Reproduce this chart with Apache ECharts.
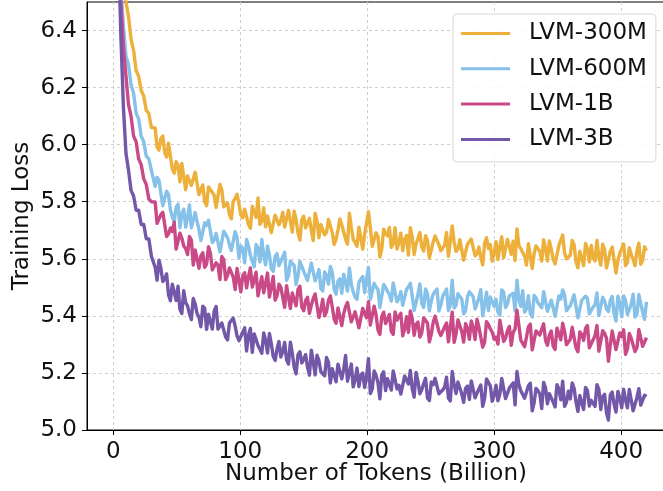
<!DOCTYPE html>
<html><head><meta charset="utf-8">
<script src="https://cdn.jsdelivr.net/npm/echarts@6/dist/echarts.min.js"></script>
<style>html,body{margin:0;padding:0;background:#fff}#c{width:663px;height:491px}</style>
</head><body><div id="c"></div>
<script>
const tokens = [2,4,6,8,10,12,14,16,18,20,22,24,26,28,30,
33,36,39,42,45,48,51,54,57,60,63,66,69,72,75,78,81,84,87,90,93,96,99,102,105,108,111,114,117,120,
123,126,129,132,135,138,141,144,147,150,153,156,159,162,165,168,171,174,177,180,183,186,189,192,195,198,201,204,207,210,
213,216,219,222,225,228,231,234,237,240,243,246,249,252,255,258,261,264,267,270,273,276,279,282,285,288,291,294,297,300,
303,306,309,312,315,318,321,324,327,330,333,336,339,342,345,348,351,354,357,360,363,366,369,372,375,378,381,384,387,390,
393,396,399,402,405,408,411,414,417,420];

const tokensMid = [34.5,37.5,40.5,43.5,46.5,49.5,52.5,55.5,58.5,61.5,64.5,67.5,70.5,73.5,76.5,79.5,82.5,85.5,88.5,91.5,94.5,97.5,100.5,103.5,106.5,109.5,112.5,115.5,118.5,
121.5,124.5,127.5,130.5,133.5,136.5,139.5,142.5,145.5,148.5,151.5,154.5,157.5,160.5,163.5,166.5,169.5,172.5,175.5,178.5,181.5,184.5,187.5,190.5,193.5,196.5,199.5,202.5,205.5,208.5,
211.5,214.5,217.5,220.5,223.5,226.5,229.5,232.5,235.5,238.5,241.5,244.5,247.5,250.5,253.5,256.5,259.5,262.5,265.5,268.5,271.5,274.5,277.5,280.5,283.5,286.5,289.5,292.5,295.5,298.5,
301.5,304.5,307.5,310.5,313.5,316.5,319.5,322.5,325.5,328.5,331.5,334.5,337.5,340.5,343.5,346.5,349.5,352.5,355.5,358.5,361.5,364.5,367.5,370.5,373.5,376.5,379.5,382.5,385.5,388.5,
391.5,394.5,397.5,400.5,403.5,406.5,409.5,412.5,415.5,418.5];

const loss300M = [7.60,7.21,6.90,6.66,6.50,6.45,6.37,6.33,6.26,6.24,6.19,6.17,6.12,6.11,6.06,
6.059,5.981,6.030,5.957,5.998,5.900,5.928,5.934,5.842,5.896,5.851,5.905,5.842,5.800,5.852,5.833,5.780,5.861,5.782,5.796,5.740,5.811,5.792,5.744,5.773,5.707,5.788,5.813,5.732,5.712,
5.754,5.696,5.756,5.735,5.711,5.770,5.694,5.737,5.666,5.749,5.725,5.699,5.760,5.674,5.725,5.693,5.739,5.650,5.701,5.719,5.668,5.760,5.669,5.644,5.712,5.687,5.765,5.644,5.691,5.606,
5.704,5.680,5.640,5.709,5.657,5.629,5.682,5.709,5.615,5.671,5.641,5.681,5.603,5.659,5.686,5.628,5.648,5.609,5.715,5.626,5.667,5.595,5.651,5.669,5.610,5.641,5.579,5.674,5.650,5.617,
5.597,5.677,5.606,5.644,5.662,5.705,5.636,5.609,5.653,5.566,5.645,5.626,5.667,5.592,5.634,5.582,5.646,5.683,5.600,5.612,5.650,5.569,5.633,5.654,5.589,5.605,5.665,5.578,5.632,5.596,
5.641,5.550,5.620,5.652,5.587,5.615,5.576,5.655,5.594,5.628];
const loss300MMid = [5.990,6.022,5.972,6.005,5.916,5.940,5.870,5.928,5.890,5.857,
5.903,5.825,5.859,5.786,5.850,5.822,5.786,5.842,5.782,5.754,
5.802,5.826,5.754,5.774,5.720,5.784,5.745,5.721,5.778,5.750,
5.692,5.753,5.719,5.763,5.705,5.731,5.767,5.691,5.737,5.708,
5.742,5.664,5.732,5.720,5.684,5.738,5.692,5.668,5.740,5.694,
5.651,5.710,5.668,5.711,5.634,5.690,5.708,5.650,5.677,5.634,
5.688,5.710,5.653,5.634,5.690,5.668,5.613,5.676,5.652,5.692,
5.627,5.664,5.610,5.680,5.650,5.626,5.692,5.610,5.658,5.634,
5.666,5.597,5.648,5.672,5.618,5.606,5.654,5.636,5.592,5.660,
5.643,5.604,5.668,5.616,5.594,5.646,5.634,5.578,5.658,5.618,
5.647,5.592,5.634,5.663,5.600,5.584,5.648,5.621,5.604,5.664,
5.590,5.627,5.576,5.634,5.647,5.592,5.606,5.651,5.568,5.626,
5.636,5.594,5.614,5.576,5.639,5.598,5.628,5.581,5.642];

const loss600M = [7.20,6.86,6.56,6.41,6.31,6.28,6.21,6.18,6.11,6.09,6.03,6.01,5.96,5.95,5.91,
5.854,5.875,5.786,5.837,5.772,5.730,5.791,5.758,5.711,5.789,5.707,5.731,5.664,5.726,5.735,5.657,5.689,5.624,5.697,5.674,5.629,5.695,5.603,5.635,5.668,5.612,5.572,5.637,5.668,5.579,
5.613,5.556,5.618,5.577,5.623,5.540,5.586,5.510,5.591,5.556,5.524,5.585,5.523,5.562,5.487,5.541,5.573,5.492,5.521,5.479,5.542,5.568,5.484,5.458,5.518,5.482,5.570,5.455,5.501,5.429,
5.510,5.486,5.452,5.518,5.461,5.437,5.493,5.514,5.419,5.475,5.444,5.494,5.418,5.476,5.494,5.437,5.464,5.419,5.525,5.437,5.477,5.407,5.467,5.491,5.424,5.462,5.400,5.483,5.466,5.434,
5.414,5.491,5.429,5.470,5.479,5.525,5.433,5.413,5.471,5.396,5.463,5.449,5.485,5.416,5.455,5.399,5.470,5.491,5.418,5.436,5.474,5.393,5.454,5.469,5.407,5.430,5.480,5.403,5.453,5.415,
5.468,5.382,5.445,5.470,5.405,5.441,5.396,5.475,5.414,5.449];
const loss600MMid = [5.885,5.830,5.783,5.825,5.747,5.781,5.709,5.774,5.745,5.709,
5.762,5.702,5.671,5.717,5.740,5.667,5.684,5.629,5.690,5.649,
5.622,5.676,5.645,5.586,5.646,5.609,5.650,5.589,5.612,5.645,
5.565,5.608,5.576,5.607,5.525,5.592,5.576,5.539,5.589,5.540,
5.517,5.587,5.540,5.496,5.554,5.511,5.553,5.476,5.530,5.546,
5.487,5.511,5.466,5.518,5.538,5.479,5.458,5.514,5.492,5.436,
5.499,5.475,5.515,5.449,5.485,5.432,5.502,5.470,5.446,5.512,
5.429,5.477,5.452,5.486,5.417,5.469,5.494,5.439,5.428,5.478,
5.459,5.417,5.484,5.467,5.429,5.492,5.439,5.419,5.470,5.458,
5.403,5.483,5.442,5.472,5.417,5.459,5.488,5.425,5.409,5.472,
5.446,5.429,5.489,5.414,5.452,5.401,5.459,5.472,5.418,5.431,
5.477,5.394,5.452,5.461,5.420,5.440,5.401,5.465,5.424,5.454,
5.407,5.469,5.397,5.454,5.423,5.476,5.405,5.442,5.388];

const loss1B = [7.10,6.74,6.50,6.34,6.24,6.14,6.10,6.03,6.01,5.95,5.93,5.88,5.86,5.81,5.80,
5.799,5.726,5.763,5.678,5.708,5.728,5.629,5.672,5.636,5.678,5.578,5.638,5.610,5.570,5.642,5.561,5.586,5.527,5.597,5.542,5.571,5.492,5.569,5.541,5.498,5.568,5.503,5.470,5.537,5.513,
5.466,5.538,5.471,5.500,5.430,5.505,5.480,5.435,5.504,5.418,5.465,5.437,5.477,5.394,5.458,5.415,5.470,5.389,5.428,5.366,5.432,5.442,5.381,5.413,5.358,5.421,5.450,5.361,5.404,5.335,
5.413,5.370,5.346,5.414,5.380,5.330,5.397,5.417,5.332,5.378,5.341,5.394,5.309,5.378,5.400,5.331,5.361,5.309,5.413,5.336,5.380,5.308,5.358,5.382,5.317,5.361,5.290,5.380,5.354,5.318,
5.301,5.383,5.322,5.363,5.342,5.420,5.315,5.292,5.362,5.281,5.347,5.333,5.372,5.297,5.347,5.282,5.358,5.374,5.299,5.318,5.361,5.274,5.335,5.356,5.288,5.316,5.366,5.280,5.339,5.241,
5.347,5.282,5.340,5.351,5.283,5.321,5.275,5.352,5.293,5.324];
const loss1BMid = [5.724,5.755,5.768,5.687,5.696,5.634,5.690,5.645,5.615,5.666,
5.631,5.567,5.621,5.581,5.619,5.556,5.577,5.608,5.527,5.568,
5.536,5.566,5.484,5.551,5.537,5.501,5.553,5.505,5.481,5.550,
5.501,5.455,5.511,5.465,5.506,5.426,5.478,5.493,5.431,5.454,
5.409,5.461,5.482,5.422,5.400,5.455,5.431,5.374,5.434,5.408,
5.447,5.379,5.414,5.358,5.426,5.393,5.368,5.434,5.350,5.398,
5.373,5.405,5.335,5.385,5.409,5.354,5.342,5.390,5.370,5.326,
5.393,5.375,5.336,5.399,5.346,5.324,5.375,5.362,5.307,5.386,
5.345,5.373,5.318,5.359,5.388,5.325,5.307,5.370,5.343,5.326,
5.385,5.310,5.348,5.297,5.354,5.367,5.312,5.326,5.371,5.288,
5.345,5.354,5.314,5.333,5.294,5.357,5.316,5.346,5.299,5.360,
5.288,5.344,5.314,5.366,5.294,5.331,5.276,5.348,5.322,5.298,
5.353,5.284,5.328,5.265,5.338,5.317,5.288,5.350,5.297];

const loss3B = [7.20,6.70,6.38,6.13,5.97,5.91,5.84,5.82,5.77,5.77,5.72,5.72,5.67,5.67,5.61,
5.570,5.595,5.520,5.547,5.453,5.483,5.504,5.408,5.447,5.407,5.461,5.408,5.362,5.426,5.406,5.354,5.433,5.356,5.371,5.316,5.380,5.364,5.313,5.343,5.277,5.356,5.337,5.296,5.269,5.315,
5.338,5.258,5.284,5.256,5.307,5.231,5.270,5.197,5.274,5.248,5.220,5.280,5.193,5.243,5.210,5.254,5.165,5.215,5.231,5.179,5.261,5.177,5.151,5.217,5.192,5.149,5.250,5.144,5.191,5.109,
5.204,5.180,5.140,5.209,5.157,5.129,5.182,5.209,5.115,5.171,5.141,5.181,5.103,5.159,5.187,5.129,5.150,5.111,5.205,5.128,5.169,5.097,5.154,5.172,5.113,5.144,5.083,5.179,5.155,5.122,
5.102,5.181,5.110,5.147,5.165,5.205,5.138,5.111,5.155,5.067,5.146,5.126,5.167,5.092,5.133,5.081,5.144,5.171,5.097,5.109,5.146,5.065,5.128,5.149,5.084,5.099,5.159,5.072,5.125,5.035,
5.133,5.063,5.112,5.143,5.078,5.105,5.066,5.145,5.083,5.117];
const loss3BMid = [5.525,5.567,5.530,5.474,5.511,5.454,5.423,5.488,5.435,5.387,
5.442,5.395,5.434,5.353,5.404,5.417,5.354,5.375,5.326,5.375,
5.392,5.330,5.306,5.358,5.332,5.272,5.330,5.303,5.340,5.270,
5.302,5.244,5.310,5.274,5.246,5.308,5.220,5.264,5.235,5.264,
5.192,5.240,5.262,5.204,5.190,5.237,5.215,5.169,5.233,5.213,
5.171,5.231,5.175,5.152,5.200,5.185,5.128,5.207,5.165,5.194,
5.138,5.179,5.207,5.144,5.126,5.189,5.161,5.144,5.202,5.127,
5.163,5.112,5.168,5.181,5.127,5.140,5.185,5.102,5.159,5.168,
5.127,5.146,5.107,5.170,5.129,5.158,5.111,5.173,5.101,5.157,
5.126,5.178,5.106,5.143,5.088,5.159,5.133,5.109,5.164,5.095,
5.138,5.075,5.148,5.127,5.098,5.159,5.106,5.083,5.136,5.165,
5.098,5.121,5.072,5.139,5.104,5.083,5.143,5.117,5.061,5.123,
5.090,5.135,5.078,5.105,5.142,5.067,5.114,5.087,5.122];

const seriesNames = ['LVM-300M','LVM-600M','LVM-1B','LVM-3B'];
const seriesValues = [loss300M, loss600M, loss1B, loss3B];
const seriesMidValues = [loss300MMid, loss600MMid, loss1BMid, loss3BMid];
const colors = ['#ECB03B','#85C1E9','#C94A87','#7357A9'];
const xTicks = [0,100,200,300,400];
const yTicks = [5.0,5.2,5.4,5.6,5.8,6.0,6.2,6.4];

const FONT = 'DejaVu Sans';
const FS = 23;
const chart = echarts.init(document.getElementById('c'), null, {renderer:'canvas'});

const series = seriesNames.map((name, i) => {
  const pts = tokens.map((t, j) => [t, seriesValues[i][j]])
    .concat(tokensMid.map((t, j) => [t, seriesMidValues[i][j]]))
    .sort((a, b) => a[0] - b[0]);
  return {
    name: name,
    type: 'line',
    data: pts,
    showSymbol: false,
    symbol: 'none',
    clip: true,
    lineStyle: {color: colors[i], width: 3.4, join: 'round'},
    itemStyle: {color: colors[i]},
    emphasis: {disabled: true}
  };
});

chart.setOption({
  animation: false,
  backgroundColor: '#fff',
  textStyle: {fontFamily: FONT},
  grid: {left: 87, top: 2, width: 578, height: 428, show: true, borderColor: '#000', borderWidth: 1,
    backgroundColor: 'transparent', containLabel: false, outerBoundsMode: 'none'},
  legend: {
    orient: 'vertical', left: 453, top: 14,
    icon: 'rect', itemWidth: 49, itemHeight: 3, itemGap: 12.3,
    padding: [8, 9, 11, 8],
    backgroundColor: 'rgba(255,255,255,0.85)', borderColor: '#d6d6d6', borderWidth: 1, borderRadius: 4,
    textStyle: {fontSize: FS, fontFamily: FONT, color: '#111', lineHeight: 23, padding: [0, 0, 0, 14]},
    data: seriesNames
  },
  xAxis: {
    type: 'value', min: -20.7, max: 434.6,
    axisLine: {onZero: false, lineStyle: {color: '#000', width: 1}},
    axisTick: {show: true, customValues: xTicks, length: 5, lineStyle: {color: '#000'}},
    axisLabel: {customValues: xTicks, fontSize: FS, fontFamily: FONT, color: '#111', margin: 11},
    splitLine: {show: true, lineStyle: {type: [3, 3], color: '#cfcfcf', width: 1}},
    name: 'Number of Tokens (Billion)', nameLocation: 'middle', nameGap: 33, nameMoveOverlap: false,
    nameTextStyle: {fontSize: FS, fontFamily: FONT, color: '#111'}
  },
  yAxis: {
    type: 'value', min: 5.0, max: 6.5,
    axisLine: {show: true, onZero: false, lineStyle: {color: '#000', width: 1}},
    axisTick: {show: true, customValues: yTicks, length: 5, lineStyle: {color: '#000'}},
    axisLabel: {customValues: yTicks, fontSize: FS, fontFamily: FONT, color: '#111', margin: 10,
      formatter: v => Number(v).toFixed(1)},
    splitLine: {show: true, lineStyle: {type: [3, 3], color: '#cfcfcf', width: 1}},
    name: 'Training Loss', nameLocation: 'middle', nameGap: 53, nameMoveOverlap: false,
    nameTextStyle: {fontSize: FS, fontFamily: FONT, color: '#111'}
  },
  series: series
});
</script>
</body></html>
